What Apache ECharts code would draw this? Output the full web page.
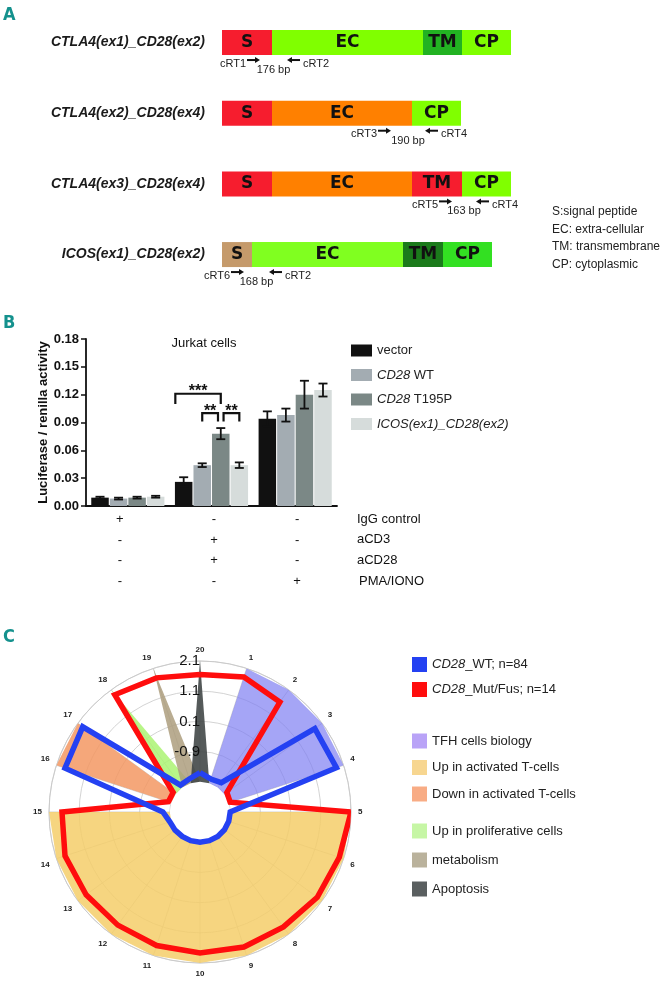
<!DOCTYPE html>
<html><head><meta charset="utf-8">
<script src="https://cdn.jsdelivr.net/npm/echarts@6/dist/echarts.min.js"></script>
<style>html,body{margin:0;padding:0;background:#fff}#c{width:668px;height:984px}</style>
</head><body><div id="c"></div>
<script>
// ---------------- Panel A data ----------------
const constructs = ['CTLA4(ex1)_CD28(ex2)', 'CTLA4(ex2)_CD28(ex4)', 'CTLA4(ex3)_CD28(ex4)', 'ICOS(ex1)_CD28(ex2)'];
const segmentNames = [['S','EC','TM','CP'], ['S','EC','CP'], ['S','EC','TM','CP'], ['S','EC','TM','CP']];
const segmentLengths = [[50,151,39,49], [50,140,49], [50,140,50,49], [30,151,40,49]];
const primerFwdPos = [25, 156, 217, 9];
const primerRevPos = [65, 203, 254, 47];
const primerFwdNames = ['cRT1', 'cRT3', 'cRT5', 'cRT6'];
const primerRevNames = ['cRT2', 'cRT4', 'cRT4', 'cRT2'];
const ampliconSizes = ['176 bp', '190 bp', '163 bp', '168 bp'];
const domainKey = ['S:signal peptide', 'EC: extra-cellular', 'TM: transmembrane', 'CP: cytoplasmic'];

// ---------------- Panel B data ----------------
const conditions = ['IgG control', 'aCD3 + aCD28', 'PMA/IONO'];
const constructsB = ['vector', 'CD28 WT', 'CD28 T195P', 'ICOS(ex1)_CD28(ex2)'];
const lucVector = [0.009, 0.026, 0.094];
const lucWT     = [0.008, 0.044, 0.098];
const lucT195P  = [0.009, 0.078, 0.120];
const lucICOS   = [0.010, 0.044, 0.125];
const errVector = [0.001, 0.005, 0.008];
const errWT     = [0.001, 0.002, 0.007];
const errT195P  = [0.001, 0.006, 0.015];
const errICOS   = [0.001, 0.003, 0.007];
const treatmentNames = ['IgG control', 'aCD3', 'aCD28', 'PMA/IONO'];
const treatmentSigns = [['+','-','-'], ['-','+','-'], ['-','+','-'], ['-','-','+']];
const bracketCategory = [1, 1, 1];
const bracketFrom = [-0.45, 1, 2.15];
const bracketTo = [2, 1.85, 3];
const bracketTop = [0.121, 0.100, 0.100];
const bracketBottom = [0.110, 0.091, 0.091];
const bracketLabels = ['***', '**', '**'];

// ---------------- Panel C data ----------------
const spokeLabels = ['1','2','3','4','5','6','7','8','9','10','11','12','13','14','15','16','17','18','19','20'];
const R_MIN = -2.9, R_MAX = 2.1;
//                 1     2     3     4     5     6     7     8     9     10    11    12    13    14    15    16    17    18    19    20
const wtScores  = [-1.75,-1.7, 1.8,  1.85,-1.9, -1.9, -1.9, -1.9, -1.9, -1.9, -1.9, -1.9, -1.88,-1.85,-1.67, 1.8,  1.9, -1.8, -1.75,-1.6];
const mutScores = [1.8,  1.6, -1.8, -1.85, 2.1,  1.95, 1.9,  1.8,  1.8,  1.77, 1.75, 1.73, 1.76, 1.8,  1.67,-1.8, -1.8,  1.9,  1.77, 1.65];
const tfhSet     = [2.1,2.1,2.1,2.1,-2.9,-2.9,-2.9,-2.9,-2.9,-2.9,-2.9,-2.9,-2.9,-2.9,-2.9,-2.9,-2.9,-2.9,-2.9,-2.9];
const upActSet   = [-2.9,-2.9,-2.9,-2.9,2.1,2.1,2.1,2.1,2.1,2.1,2.1,2.1,2.1,2.1,2.1,-2.9,-2.9,-2.9,-2.9,-2.9];
const downActSet = [-2.9,-2.9,-2.9,-2.9,-2.9,-2.9,-2.9,-2.9,-2.9,-2.9,-2.9,-2.9,-2.9,-2.9,-2.9,2.1,2.1,-2.9,-2.9,-2.9];
const prolifSet  = [-2.9,-2.9,-2.9,-2.9,-2.9,-2.9,-2.9,-2.9,-2.9,-2.9,-2.9,-2.9,-2.9,-2.9,-2.9,-2.9,-1.9,2.1,-1.9,-2.9];
const metabSet   = [-2.9,-2.9,-2.9,-2.9,-2.9,-2.9,-2.9,-2.9,-2.9,-2.9,-2.9,-2.9,-2.9,-2.9,-2.9,-2.9,-2.9,-1.9,2.1,-1.9];
const apopSet    = [-1.9,-2.9,-2.9,-2.9,-2.9,-2.9,-2.9,-2.9,-2.9,-2.9,-2.9,-2.9,-2.9,-2.9,-2.9,-2.9,-2.9,-2.9,-1.9,2.1];
const holeSet    = [-1.9,-1.9,-1.9,-1.9,-1.9,-1.9,-1.9,-1.9,-1.9,-1.9,-1.9,-1.9,-1.9,-1.9,-1.9,-1.9,-1.9,-1.9,-1.9,-1.9];

// ---------------- styles ----------------
const segColorMap = [
  ['#f61d2e', '#80ff00', '#22b222', '#80ff00'],
  ['#f61d2e', '#ff8000', '#80ff00'],
  ['#f61d2e', '#ff8000', '#f61d2e', '#80ff00'],
  ['#c59a6b', '#80ff20', '#1b7a1b', '#33e022']
];
const barColors = ['#111111', '#a3acb2', '#7b8886', '#d6dcdb'];
const FONT = 'Liberation Sans, Arial, sans-serif';

const chart = echarts.init(document.getElementById('c'));

// Panel A series
const segSeries = [0, 1, 2, 3].map(j => ({
  type: 'bar', xAxisIndex: 0, yAxisIndex: 0, stack: 'domains', barWidth: 25, silent: true,
  data: constructs.map((_, i) => segmentLengths[i][j] == null ? null : {
    value: segmentLengths[i][j], name: segmentNames[i][j], itemStyle: { color: segColorMap[i][j] }
  }),
  label: { show: true, position: 'inside', formatter: p => (p.data ? p.data.name : ''),
    fontSize: 17, fontWeight: 'bold', fontFamily: 'DejaVu Sans, sans-serif', color: '#111' }
}));

const primerData = constructs.map((_, i) => [primerFwdPos[i], i, primerRevPos[i]]);
const primerSeries = {
  type: 'custom', xAxisIndex: 0, yAxisIndex: 0, silent: true, encode: { x: [0, 2], y: 1 },
  data: primerData,
  renderItem: (params, api) => {
    const i = params.dataIndex;
    const p1 = api.coord([api.value(0), api.value(1)]);
    const p2 = api.coord([api.value(2), api.value(1)]);
    const bottom = p1[1] + 12.5;
    const ya = bottom + 5, yn = bottom + 8.5, yb = bottom + 15;
    const x1 = p1[0], x2 = p2[0];
    const st = { stroke: '#111', lineWidth: 2 };
    const tf = { fontSize: 11, fontFamily: FONT, fill: '#222' };
    return { type: 'group', children: [
      { type: 'line', shape: { x1: x1, y1: ya, x2: x1 + 9, y2: ya }, style: st },
      { type: 'polygon', shape: { points: [[x1 + 13, ya], [x1 + 8, ya - 3], [x1 + 8, ya + 3]] }, style: { fill: '#111' } },
      { type: 'polygon', shape: { points: [[x2, ya], [x2 + 5, ya - 3], [x2 + 5, ya + 3]] }, style: { fill: '#111' } },
      { type: 'line', shape: { x1: x2 + 4, y1: ya, x2: x2 + 13, y2: ya }, style: st },
      { type: 'text', style: Object.assign({ text: primerFwdNames[i], x: x1 - 1, y: yn, align: 'right', verticalAlign: 'middle' }, tf) },
      { type: 'text', style: Object.assign({ text: primerRevNames[i], x: x2 + 16, y: yn, align: 'left', verticalAlign: 'middle' }, tf) },
      { type: 'text', style: Object.assign({ text: ampliconSizes[i], x: (x1 + 13 + x2) / 2, y: yb, align: 'center', verticalAlign: 'middle' }, tf) }
    ]};
  }
};

// Panel B series
const lucValues = [lucVector, lucWT, lucT195P, lucICOS];
const lucErrors = [errVector, errWT, errT195P, errICOS];
const BAR_W = 17.5, BAR_GAP = 1.05;
const barOffset = b => (b - 1.5) * (BAR_W + BAR_GAP);
const barSeries = constructsB.map((n, b) => ({
  name: n, type: 'bar', xAxisIndex: 1, yAxisIndex: 1, barWidth: BAR_W, barGap: '6%',
  itemStyle: { color: barColors[b] }, data: lucValues[b], silent: true
}));
const errData = [];
lucValues.forEach((vals, b) => vals.forEach((v, c) => errData.push([c, v, lucErrors[b][c], b])));
const errSeries = {
  type: 'custom', xAxisIndex: 1, yAxisIndex: 1, silent: true, encode: { x: 0, y: 1 }, data: errData, z: 5,
  renderItem: (params, api) => {
    const c = api.value(0), v = api.value(1), e = api.value(2), b = api.value(3);
    const x = api.coord([c, 0])[0] + barOffset(b);
    const yT = api.coord([c, v + e])[1], yB = api.coord([c, v - e])[1];
    const st = { stroke: '#111', lineWidth: 1.8 };
    return { type: 'group', children: [
      { type: 'line', shape: { x1: x, y1: yT, x2: x, y2: yB }, style: st },
      { type: 'line', shape: { x1: x - 4.5, y1: yT, x2: x + 4.5, y2: yT }, style: st },
      { type: 'line', shape: { x1: x - 4.5, y1: yB, x2: x + 4.5, y2: yB }, style: st }
    ]};
  }
};
const bracketData = bracketLabels.map((_, i) => [bracketCategory[i], bracketFrom[i], bracketTo[i], bracketTop[i], bracketBottom[i]]);
const bracketSeries = {
  type: 'custom', xAxisIndex: 1, yAxisIndex: 1, silent: true, encode: { x: 0, y: 3 }, data: bracketData, z: 6,
  renderItem: (params, api) => {
    const i = params.dataIndex, c = api.value(0);
    const cx = api.coord([c, 0])[0];
    const x1 = cx + barOffset(api.value(1)), x2 = cx + barOffset(api.value(2));
    const yt = api.coord([c, api.value(3)])[1], yb = api.coord([c, api.value(4)])[1];
    return { type: 'group', children: [
      { type: 'polyline', shape: { points: [[x1, yb], [x1, yt], [x2, yt], [x2, yb]] }, style: { stroke: '#111', lineWidth: 2.2, fill: null } },
      { type: 'text', style: { text: bracketLabels[i], x: (x1 + x2) / 2, y: yt - 2, align: 'center', verticalAlign: 'middle',
        fontSize: 16, fontWeight: 'bold', fontFamily: FONT, fill: '#111' } }
    ]};
  }
};

// Panel C series
function toPolar(vals) {
  const pts = [];
  for (let k = 0; k <= 20; k++) {
    const axis = (k === 0) ? 20 : k;
    pts.push([vals[axis - 1] - R_MIN, k]);
  }
  return pts;
}
const fills = [
  { name: 'TFH cells biology', color: '#b9a3f7', fill: '#7f7ff2', op: 0.7, vals: tfhSet },
  { name: 'Up in activated T-cells', color: '#f7d690', fill: '#f4ce6a', op: 0.85, vals: upActSet },
  { name: 'Down in activated T-cells', color: '#f8ac85', fill: '#f39863', op: 0.85, vals: downActSet },
  { name: 'Up in proliferative cells', color: '#c6f6a5', fill: '#acf373', op: 0.85, vals: prolifSet },
  { name: 'metabolism', color: '#bab29c', fill: '#ad9d7e', op: 0.85, vals: metabSet },
  { name: 'Apoptosis', color: '#5a5f60', fill: '#424848', op: 0.9, vals: apopSet }
];
const fillSeries = fills.map(f => ({
  name: f.name, type: 'line', coordinateSystem: 'polar', polarIndex: 0, symbol: 'none', silent: true,
  color: f.color, data: toPolar(f.vals),
  lineStyle: { width: 0, opacity: 0 },
  areaStyle: { color: f.fill, opacity: f.op, origin: 'start' }
}));
const holeSeries = {
  name: 'hole', type: 'line', coordinateSystem: 'polar', polarIndex: 0, symbol: 'none', silent: true,
  data: toPolar(holeSet), lineStyle: { width: 0, opacity: 0 },
  areaStyle: { color: '#ffffff', opacity: 1, origin: 'start' }
};
const lineSeries = [
  { name: 'CD28_Mut/Fus; n=14', color: '#ff0d0d', vals: mutScores },
  { name: 'CD28_WT; n=84', color: '#2441f2', vals: wtScores }
].map(s => ({
  name: s.name, type: 'line', coordinateSystem: 'polar', polarIndex: 0, symbol: 'none', silent: true,
  color: s.color, data: toPolar(s.vals),
  lineStyle: { width: 5.5, color: s.color, join: 'miter', miterLimit: 4 }
}));

const italicFmt = name => {
  if (name.indexOf('CD28') === 0) return '{i|CD28}' + name.slice(4);
  if (name.indexOf('ICOS') === 0) return '{i|' + name + '}';
  return name;
};
const legendText = { fontSize: 13, color: '#222', fontFamily: FONT, rich: { i: { fontStyle: 'italic', fontSize: 13, color: '#222', fontFamily: FONT } } };

const graphics = [];
domainKey.forEach((t, i) => graphics.push({ type: 'text', left: 552, top: 206 + i * 17.5,
  style: { text: t, fontSize: 12, fontFamily: FONT, fill: '#222' } }));
treatmentNames.forEach((t, i) => graphics.push({ type: 'text', left: i === 3 ? 359 : 357, top: 512.5 + i * 20.7,
  style: { text: t, fontSize: 13, fontFamily: FONT, fill: '#111' } }));

const letterStyle = { color: '#14918d', fontSize: 18, fontWeight: 'bold', fontFamily: 'DejaVu Sans Condensed, DejaVu Sans, sans-serif' };

chart.setOption({
  animation: false,
  textStyle: { fontFamily: FONT },
  title: [
    { text: 'A', left: 3, top: 6, padding: 0, textStyle: letterStyle },
    { text: 'B', left: 3, top: 314, padding: 0, textStyle: letterStyle },
    { text: 'C', left: 3, top: 628, padding: 0, textStyle: letterStyle },
    { text: 'Jurkat cells', left: 204, top: 337, padding: 0, textAlign: 'center', textStyle: { fontSize: 13, fontWeight: 'normal', color: '#111', fontFamily: FONT } }
  ],
  legend: [
    { data: constructsB, orient: 'vertical', left: 346, top: 339, itemWidth: 21, itemHeight: 12, itemGap: 11.5, icon: 'rect',
      formatter: italicFmt, textStyle: legendText, selectedMode: false },
    { data: ['CD28_WT; n=84', 'CD28_Mut/Fus; n=14'], orient: 'vertical', left: 407, top: 652, itemWidth: 15, itemHeight: 15, itemGap: 10, icon: 'rect',
      formatter: italicFmt, textStyle: legendText, selectedMode: false },
    { data: ['TFH cells biology', 'Up in activated T-cells', 'Down in activated T-cells'], orient: 'vertical', left: 407, top: 728.5,
      itemWidth: 15, itemHeight: 15, itemGap: 11.5, icon: 'rect', textStyle: legendText, selectedMode: false },
    { data: ['Up in proliferative cells', 'metabolism', 'Apoptosis'], orient: 'vertical', left: 407, top: 818.5,
      itemWidth: 15, itemHeight: 15, itemGap: 14, icon: 'rect', textStyle: legendText, selectedMode: false }
  ],
  grid: [
    { left: 222, top: 7.2, width: 300, height: 282.7 },
    { left: 86, top: 339, width: 251, height: 167 }
  ],
  xAxis: [
    { gridIndex: 0, type: 'value', min: 0, max: 300, show: false },
    { gridIndex: 1, type: 'category', data: conditions,
      axisLine: { lineStyle: { color: '#111', width: 1.8 } }, axisTick: { show: false },
      axisLabel: { margin: 3, interval: 0, color: '#111', fontSize: 13, lineHeight: 20.7,
        formatter: (v, idx) => treatmentSigns.map(r => '{g' + idx + '|' + r[idx] + '}').join('\n'),
        rich: { g0: { fontSize: 13, lineHeight: 20.7, padding: [0, 16, 0, 0], color: '#111' },
                g1: { fontSize: 13, lineHeight: 20.7, padding: [0, 0, 0, 5], color: '#111' },
                g2: { fontSize: 13, lineHeight: 20.7, padding: [0, 0, 0, 4], color: '#111' } } } }
  ],
  yAxis: [
    { gridIndex: 0, type: 'category', data: constructs, inverse: true,
      axisLine: { show: false }, axisTick: { show: false },
      axisLabel: { margin: 17, fontSize: 14, fontWeight: 'bold', fontStyle: 'italic', color: '#1a1a1a' } },
    { gridIndex: 1, type: 'value', min: 0, max: 0.18, interval: 0.03,
      name: 'Luciferase / renilla activity', nameLocation: 'middle', nameGap: 36,
      nameTextStyle: { fontSize: 13, fontWeight: 'bold', color: '#111' },
      axisLine: { show: true, lineStyle: { color: '#111', width: 1.8 } },
      axisTick: { show: true, length: 5, lineStyle: { color: '#111', width: 1.5 } },
      splitLine: { show: false },
      axisLabel: { margin: 7, fontSize: 13, fontWeight: 'bold', color: '#111', formatter: v => v.toFixed(2) } }
  ],
  polar: [
    { center: [200, 812], radius: 151 },
    { center: [200, 812], radius: 151 }
  ],
  angleAxis: [
    { polarIndex: 0, type: 'value', min: 0, max: 20, interval: 1, startAngle: 90, clockwise: true,
      axisLine: { lineStyle: { color: '#c8c8c8', width: 0.8 } }, axisTick: { show: false },
      splitLine: { show: true, lineStyle: { color: '#c8c8c8', width: 0.8 } },
      axisLabel: { margin: 7, fontSize: 8, fontWeight: 'bold', color: '#222',
        formatter: v => (v === 0 ? spokeLabels[19] : (v >= 20 ? '' : spokeLabels[v - 1])) } },
    { polarIndex: 1, type: 'value', min: 0, max: 20, interval: 1, startAngle: 90, clockwise: true,
      axisLine: { show: false }, axisTick: { show: false }, axisLabel: { show: false }, splitLine: { show: false } }
  ],
  radiusAxis: [
    { polarIndex: 0, type: 'value', min: 0, max: R_MAX - R_MIN, interval: 1,
      axisLine: { show: false }, axisTick: { show: false }, axisLabel: { show: false },
      splitLine: { show: true, lineStyle: { color: '#c8c8c8', width: 0.8 } } },
    { polarIndex: 1, type: 'value', min: 0, max: R_MAX - R_MIN, interval: 1, z: 20,
      axisLine: { show: false }, axisTick: { show: false }, splitLine: { show: false },
      axisLabel: { margin: 0, fontSize: 15, color: '#111',
        formatter: v => (v >= 2 ? (v + R_MIN).toFixed(1) : '') } }
  ],
  graphic: graphics,
  series: [].concat(segSeries, [primerSeries], barSeries, [errSeries, bracketSeries], fillSeries, [holeSeries], lineSeries)
});
</script>
</body></html>
